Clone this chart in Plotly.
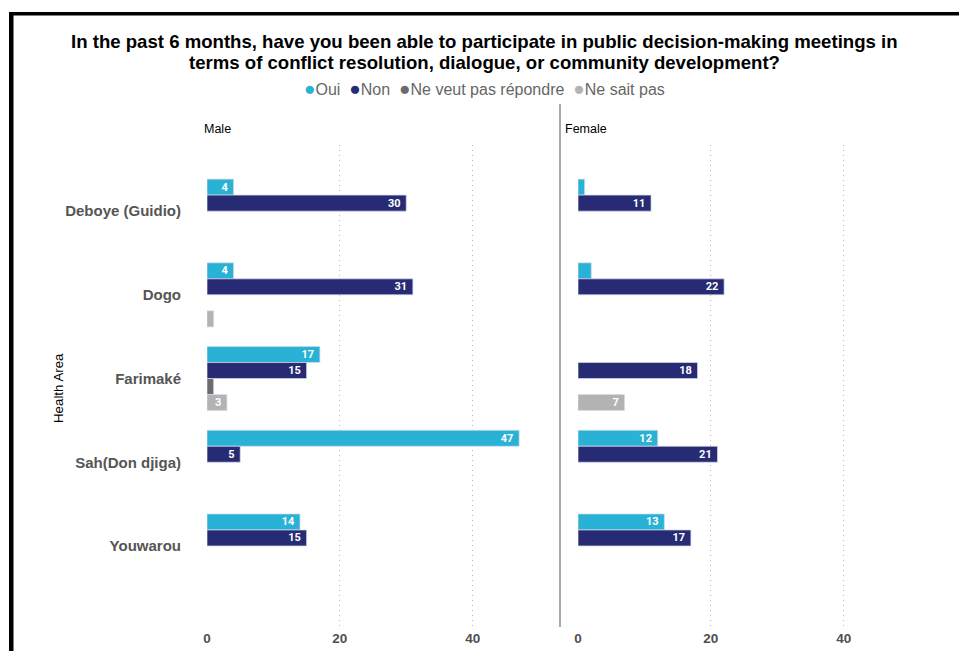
import plotly.graph_objects as go

# Survey counts by health area, split by gender
areas = ["Deboye (Guidio)", "Dogo", "Farimaké", "Sah(Don djiga)", "Youwarou"]
responses = ["Oui", "Non", "Ne veut pas répondre", "Ne sait pas"]
colors = ["#29B2D5", "#262B73", "#6B6B6B", "#B3B3B3"]

male_oui = [4, 4, 17, 47, 14]
male_non = [30, 31, 15, 5, 15]
male_refuse = [None, None, 1, None, None]
male_unknown = [None, 1, 3, None, None]

female_oui = [1, 2, None, 12, 13]
female_non = [11, 22, 18, 21, 17]
female_refuse = [None, None, None, None, None]
female_unknown = [None, None, 7, None, None]

male = [male_oui, male_non, male_refuse, male_unknown]
female = [female_oui, female_non, female_refuse, female_unknown]

title_lines = [
    "In the past 6 months, have you been able to participate in public decision-making meetings in",
    "terms of conflict resolution, dialogue, or community development?",
]

W, H = 959, 651


def px(x):
    return x / W


def py(y):
    return 1 - y / H


def labels(vals):
    # bars too narrow for a readable label stay unlabelled; a trailing
    # no-break space keeps the value off the bar's end
    return [f"{v}\u00a0" if (v is not None and v >= 3) else "" for v in vals]


fig = go.Figure()
for panel, xa, ya in ((male, "x", "y"), (female, "x2", "y2")):
    for name, vals, col in zip(responses, panel, colors):
        fig.add_trace(go.Bar(
            y=areas, x=vals, name=name, orientation="h",
            marker=dict(color=col, line=dict(width=0.8, color="rgba(215,218,235,0.9)")),
            text=labels(vals), textposition="inside", insidetextanchor="end",
            textangle=0, constraintext="none",
            textfont=dict(family="Roboto", size=11, color="white", weight="bold"),
            cliponaxis=False, showlegend=False, xaxis=xa, yaxis=ya,
            hoverinfo="skip",
        ))

xcommon = dict(range=[0, 52.4], dtick=20, showgrid=True, griddash="1px,4px",
               gridcolor="#B8B8B8", gridwidth=1, zeroline=False, showline=False,
               tickfont=dict(family="Liberation Sans", size=13.5, color="#505050", weight="bold"),
               ticks="", fixedrange=True, automargin=False)
ycommon = dict(type="category", categoryorder="array", categoryarray=areas,
               range=[4.98, -0.79], domain=[py(628), py(145)], showgrid=False,
               zeroline=False, showline=False, ticks="", automargin=False)

fig.update_layout(
    width=W, height=H, margin=dict(l=0, r=0, t=0, b=0, pad=0, autoexpand=False),
    paper_bgcolor="white", plot_bgcolor="white",
    barmode="group", bargap=0.235, bargroupgap=0,
    xaxis=dict(domain=[px(207), px(555)], anchor="y", **xcommon),
    xaxis2=dict(domain=[px(578), px(926)], anchor="y2", **xcommon),
    yaxis=dict(anchor="x", ticklabelstandoff=25,
               tickfont=dict(family="Liberation Sans", size=15, color="#555555", weight="bold"),
               **ycommon),
    yaxis2=dict(anchor="x2", showticklabels=False, **ycommon),
    showlegend=False,
)

legend_txt = "  ".join(
    f"<span style='color:{c};font-size:19px'>●</span>{r}" for r, c in zip(responses, colors)
)

for line, yy in zip(title_lines, (42, 62)):
    fig.add_annotation(
        text=line, x=px(484), y=py(yy), xref="paper", yref="paper", showarrow=False,
        font=dict(family="Liberation Sans", size=18.6, color="black", weight="bold"),
        xanchor="center", yanchor="middle",
    )
fig.add_annotation(
    text=legend_txt, x=px(484), y=py(88), xref="paper", yref="paper", showarrow=False,
    font=dict(family="Liberation Sans", size=16, color="#666666"),
    xanchor="center", yanchor="middle",
)
fig.add_annotation(text="Male", x=px(202), y=py(129), xref="paper", yref="paper",
                   showarrow=False, xanchor="left", yanchor="middle",
                   font=dict(family="Liberation Sans", size=12.5, color="black"))
fig.add_annotation(text="Female", x=px(563), y=py(129), xref="paper", yref="paper",
                   showarrow=False, xanchor="left", yanchor="middle",
                   font=dict(family="Liberation Sans", size=12.5, color="black"))
fig.add_annotation(text="Health Area", x=px(58), y=py(388), xref="paper", yref="paper",
                   showarrow=False, textangle=-90, xanchor="center", yanchor="middle",
                   font=dict(family="Liberation Sans", size=13.3, color="black"))

# panel divider and frame edges
fig.add_shape(type="line", xref="paper", yref="paper", x0=px(560), x1=px(560),
              y0=py(104), y1=py(627), line=dict(color="#8C8C8C", width=1.5))
fig.add_shape(type="rect", xref="paper", yref="paper", x0=px(9), x1=px(959),
              y0=py(15.5), y1=py(12), fillcolor="black", line=dict(width=0))
fig.add_shape(type="rect", xref="paper", yref="paper", x0=px(9), x1=px(13.5),
              y0=py(651), y1=py(12), fillcolor="black", line=dict(width=0))

fig.write_html("out.html")
